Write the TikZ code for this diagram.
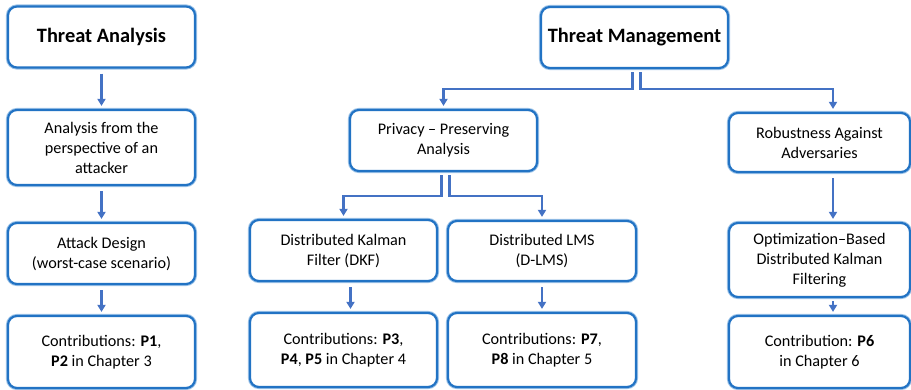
\documentclass[tikz,border=0pt]{standalone}
\usepackage{fontspec}
\setmainfont{Carlito}
\usepackage{tikz}
\usetikzlibrary{arrows.meta,positioning}
\definecolor{Edge}{HTML}{2273C4}
\definecolor{EdgeLight}{HTML}{9CC3E8}
\definecolor{Link}{HTML}{4472C4}

\begin{document}
\begin{tikzpicture}[>={Triangle[length=7pt,width=8pt]},
  box/.style={draw=Edge,line width=2.2pt,rounded corners=9pt,fill=white,align=center,
    minimum width=187pt,minimum height=61pt,inner sep=2pt,
    font=\fontsize{16.2}{20}\selectfont,
    preaction={draw=EdgeLight,line width=4.2pt}},
  head/.style={box,font=\fontsize{20.4}{23}\selectfont\bfseries},
  link/.style={->,Link,line width=2.4pt}]
  \useasboundingbox (0,0) rectangle (911pt,-390pt);

  % left branch
  \node[head] (ta) at (101.5pt,-37pt) {Threat Analysis};
  \node[box,minimum height=75pt] (an) at (101.5pt,-147.5pt) {Analysis from the\\perspective of an\\attacker};
  \node[box] (ad) at (101.5pt,-253.5pt) {Attack Design\\(worst-case scenario)};
  \node[box,minimum height=72pt] (c1) at (101.5pt,-352pt) {Contributions: \textbf{P1},\\\textbf{P2} in Chapter 3};

  % right branch
  \node[head] (tm) at (634.5pt,-37.5pt) {Threat Management};
  \node[box] (pp) at (443.5pt,-140.5pt) {Privacy -- Preserving\\Analysis};
  \node[box,minimum width=181pt,minimum height=59pt] (ra) at (819.5pt,-142.5pt) {Robustness Against\\Adversaries};
  \node[box] (dkf) at (343.5pt,-250.5pt) {Distributed Kalman\\Filter (DKF)};
  \node[box,minimum width=188pt,minimum height=60pt] (dl) at (542pt,-251pt) {Distributed LMS\\(D-LMS)};
  \node[box,minimum height=74pt] (c2) at (343.5pt,-350pt) {Contributions: \textbf{P3},\\\textbf{P4}, \textbf{P5} in Chapter 4};
  \node[box,minimum width=188pt,minimum height=74pt] (c3) at (542pt,-350pt) {Contributions: \textbf{P7},\\\textbf{P8} in Chapter 5};
  \node[box,minimum width=181pt,minimum height=74pt] (od) at (819.5pt,-260pt) {Optimization--Based\\Distributed Kalman\\Filtering};
  \node[box,minimum width=181pt,minimum height=72pt] (c4) at (819.5pt,-352pt) {Contribution: \textbf{P6}\\in Chapter 6};

  % connectors
  \draw[link] ([yshift=-5pt]ta.south) -- ([yshift=3pt]an.north);
  \draw[link] ([yshift=-5pt]an.south) -- ([yshift=3pt]ad.north);
  \draw[link] ([yshift=-5pt]ad.south) -- ([yshift=3pt]c1.north);

  \draw[link] ([xshift=-2pt,yshift=-3pt]tm.south) -- ++(0,-17pt) -| ([yshift=3pt]pp.north);
  \draw[link] ([xshift=6pt,yshift=-3pt]tm.south) -- ++(0,-17pt) -| ([xshift=13.5pt,yshift=3pt]ra.north);
  \draw[link] ([xshift=-2pt,yshift=-3pt]pp.south) -- ++(0,-21pt) -| ([yshift=3pt]dkf.north);
  \draw[link] ([xshift=6pt,yshift=-3pt]pp.south) -- ++(0,-21pt) -| ([yshift=3pt]dl.north);

  \draw[link] ([xshift=7pt,yshift=-5pt]dkf.south) -- ([xshift=7pt,yshift=3pt]c2.north);
  \draw[link] ([yshift=-5pt]dl.south) -- ([yshift=3pt]c3.north);
  \draw[link] ([xshift=13.5pt,yshift=-5pt]ra.south) -- ([xshift=13.5pt,yshift=3pt]od.north);
  \draw[link] ([xshift=13.5pt,yshift=-3pt]od.south) -- ([xshift=13.5pt,yshift=3pt]c4.north);
\end{tikzpicture}
\end{document}
